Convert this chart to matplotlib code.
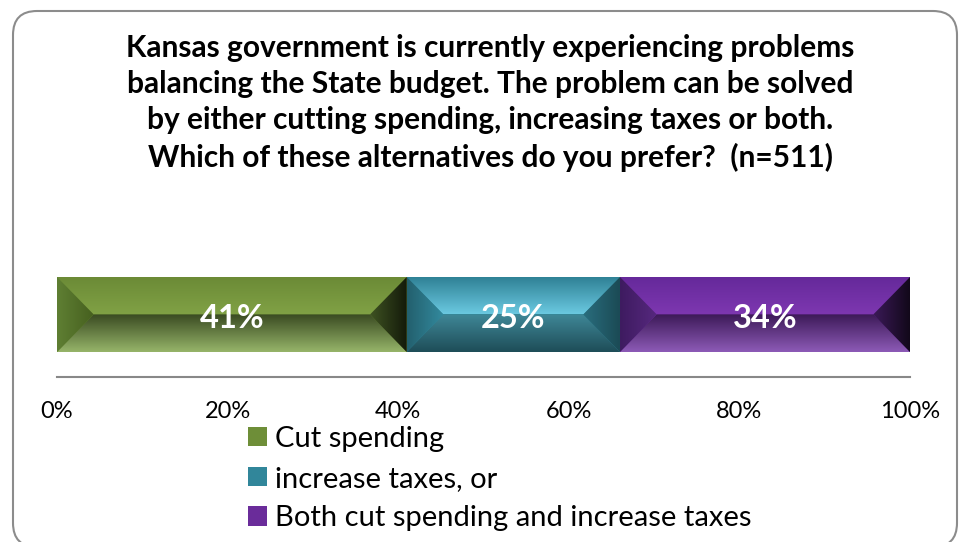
import matplotlib
matplotlib.use("Agg")
import matplotlib.pyplot as plt
import numpy as np
from matplotlib.patches import Polygon, Patch, FancyBboxPatch
from matplotlib.colors import LinearSegmentedColormap

# ─── Datos ────────────────────────────────────────────────────────────────
categorias = ["Cut spending", "increase taxes, or",
              "Both cut spending and increase taxes"]
valores    = [41, 25, 34]
ticks      = [0, 20, 40, 60, 80, 100]
titulo = ("Kansas government is currently experiencing problems\n"
          "balancing the State budget. The problem can be solved\n"
          "by either cutting spending, increasing taxes or both.\n"
          "Which of these alternatives do you prefer?  (n=511)")

# caras del bisel: (color_a, color_b) -> arriba->abajo o izq->der
estilos = [
    dict(base="#6E8E38",
         top=("#6B8A36", "#80A145"), bot=("#3A4B22", "#96B469"),
         left=("#5F7F33", "#46601F"), right=("#3E5222", "#141A0A")),
    dict(base="#31869A",
         top=("#2E8094", "#6AC8E0"), bot=("#3F8797", "#1E4D58"),
         left=("#23606E", "#338A9E"), right=("#2A6E7E", "#1B4A55")),
    dict(base="#6A2C9A",
         top=("#65299A", "#7D37B0"), bot=("#3D1A58", "#8C5AB6"),
         left=("#3E1B60", "#56287E"), right=("#3B1A58", "#12081A")),
]

FUENTE = "Lato"
plt.rcParams["font.family"] = [FUENTE, "DejaVu Sans"]

fig = plt.figure(figsize=(9.61, 5.42), dpi=100, facecolor="white")

# marco redondeado (en píxeles)
bg = fig.add_axes([0, 0, 1, 1])
bg.set_xlim(0, 961)
bg.set_ylim(542, 0)
bg.axis("off")
bg.add_patch(FancyBboxPatch((13, 11), 944, 536,
                            boxstyle="round,pad=0,rounding_size=24",
                            facecolor="white", edgecolor="#8C8C8C", lw=1.5))

fig.text(490 / 961, 1 - 103 / 542, titulo, ha="center", va="center",
         fontsize=21.5, fontweight="bold", color="black", linespacing=1.36)

ax = fig.add_axes([57 / 961, 1 - 377 / 542, 853 / 961, 125 / 542])
ax.set_facecolor("none")


def cara(ax, verts, c1, c2, vertical=True):
    poly = Polygon(verts, closed=True, facecolor="none", edgecolor="none")
    ax.add_patch(poly)
    xs = [v[0] for v in verts]
    ys = [v[1] for v in verts]
    cmap = LinearSegmentedColormap.from_list("g", [c1, c2])
    if vertical:
        grad = np.linspace(1, 0, 64).reshape(-1, 1)   # c1 arriba
    else:
        grad = np.linspace(0, 1, 64).reshape(1, -1)   # c1 a la izquierda
    im = ax.imshow(grad, cmap=cmap, extent=(min(xs), max(xs), min(ys), max(ys)),
                   aspect="auto", interpolation="bilinear", origin="lower",
                   zorder=2)
    im.set_clip_path(poly)


ALTO = 0.6
BISEL = 4.3
izq = np.concatenate([[0], np.cumsum(valores)[:-1]])
ax.barh(0, valores, left=izq, height=ALTO,
        color=[e["base"] for e in estilos], edgecolor="none", zorder=1)

for x0, v, e in zip(izq, valores, estilos):
    x1 = x0 + v
    top, bot, mid = ALTO / 2, -ALTO / 2, 0
    cara(ax, [(x0, top), (x1, top), (x1 - BISEL, mid), (x0 + BISEL, mid)],
         *e["top"])
    cara(ax, [(x0 + BISEL, mid), (x1 - BISEL, mid), (x1, bot), (x0, bot)],
         *e["bot"])
    cara(ax, [(x0, top), (x0 + BISEL, mid), (x0, bot)],
         *e["left"], vertical=False)
    cara(ax, [(x1, top), (x1, bot), (x1 - BISEL, mid)],
         *e["right"], vertical=False)
    ax.text(x0 + v / 2, -0.03, f"{v}%", ha="center", va="center",
            fontsize=23.5, fontweight="bold", color="white", zorder=5)

ax.set_xlim(0, 100)
ax.set_ylim(-0.5, 0.5)
ax.set_xticks(ticks)
ax.set_xticklabels([f"{t}%" for t in ticks], fontsize=17)
ax.tick_params(axis="x", length=0, pad=17)
ax.set_yticks([])
for s in ["top", "left", "right"]:
    ax.spines[s].set_visible(False)
ax.spines["bottom"].set_color("#888888")
ax.spines["bottom"].set_linewidth(1.5)

handles = [Patch(facecolor=e["base"], edgecolor="none") for e in estilos]
fig.legend(handles, categorias, loc="upper left",
           bbox_to_anchor=(248 / 961, 1 - 426 / 542), frameon=False,
           fontsize=21, handlelength=0.65, handleheight=0.65,
           handletextpad=0.28, labelspacing=0.47, borderaxespad=0,
           borderpad=0)

fig.savefig("out.png", dpi=100, facecolor="white")
